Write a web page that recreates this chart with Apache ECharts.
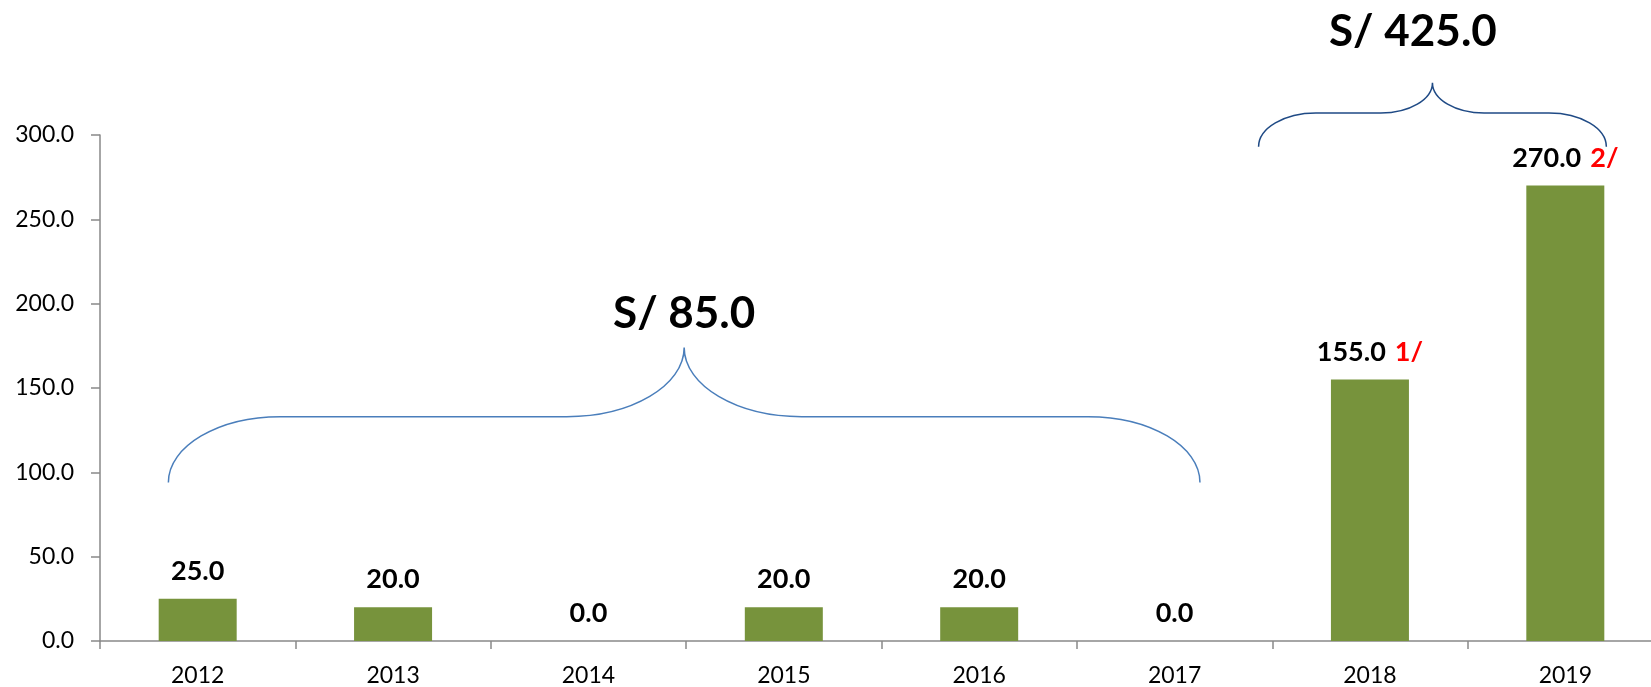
<!DOCTYPE html>
<html>
<head>
<meta charset="utf-8">
<script src="https://cdn.jsdelivr.net/npm/echarts@6/dist/echarts.min.js"></script>
<style>
  html, body { margin: 0; padding: 0; background: #fff; }
  #chart { width: 1651px; height: 687px; }
</style>
</head>
<body>
<div id="chart"></div>
<script>
// datos del grafico
const years = ['2012', '2013', '2014', '2015', '2016', '2017', '2018', '2019']
const amounts = [25, 20, 0, 20, 20, 0, 155, 270]
const notes = ['', '', '', '', '', '', '1/', '2/']
const yTicks = [0, 50, 100, 150, 200, 250, 300]

// llaves: [desde, hasta (en unidades de categoria), base, tramo, punta, etiqueta x, etiqueta y, texto]
const braceFrom = [0.35, 5.93]
const braceTo = [5.63, 7.71]
const braceBase = [94, 293]
const braceMid = [133, 313]
const braceTip = [174, 331]
const braceLabelX = [2.99, 6.72]
const braceLabelY = [194, 361]
const braceText = ['S/ 85.0', 'S/ 425.0']
const braceColor = ['#4a7ebb', '#1f4a85']

const FONT = 'Lato, "Open Sans", "Noto Sans", sans-serif'

const chart = echarts.init(document.getElementById('chart'))

const braceData = braceFrom.map((f, i) => [f, braceTo[i], braceBase[i], braceMid[i], braceTip[i], braceLabelX[i], braceLabelY[i], i])

function renderBrace(params, api) {
    const i = api.value(7)
    const pL = api.coord([api.value(0), api.value(2)])
    const pR = api.coord([api.value(1), api.value(2)])
    const yh = api.coord([api.value(0), api.value(3)])[1]
    const yt = api.coord([api.value(0), api.value(4)])[1]
    const yb = pL[1]
    const xm = (pL[0] + pR[0]) / 2
    const h1 = yb - yh
    const h2 = yh - yt
    const w1 = h1 * 1.7
    const w2 = h2 * 1.7
    const k = 0.552
    const x0 = pL[0]
    const x1 = pR[0]
    const d = [
        `M${x0},${yb}`,
        `C${x0},${yb - k * h1} ${x0 + w1 - k * w1},${yh} ${x0 + w1},${yh}`,
        `L${xm - w2},${yh}`,
        `C${xm - w2 + k * w2},${yh} ${xm},${yt + k * h2} ${xm},${yt}`,
        `C${xm},${yt + k * h2} ${xm + w2 - k * w2},${yh} ${xm + w2},${yh}`,
        `L${x1 - w1},${yh}`,
        `C${x1 - w1 + k * w1},${yh} ${x1},${yb - k * h1} ${x1},${yb}`
    ].join(' ')
    const lp = api.coord([api.value(5), api.value(6)])
    return {
        type: 'group',
        children: [
            {
                type: 'path',
                shape: { pathData: d },
                style: { fill: null, stroke: braceColor[i], lineWidth: 1.5 }
            },
            {
                type: 'text',
                x: lp[0],
                y: lp[1],
                style: {
                    text: braceText[i],
                    fill: '#000',
                    font: `bold 44px ${FONT}`,
                    align: 'center',
                    verticalAlign: 'middle'
                }
            }
        ]
    }
}

const option = {
    animation: false,
    backgroundColor: '#fff',
    grid: {
        left: 100,
        width: 1563,
        top: 135,
        bottom: 46,
        containLabel: false,
        outerBoundsMode: 'none'
    },
    xAxis: [
        {
            type: 'category',
            data: years,
            axisLine: { lineStyle: { color: '#898989', width: 1.5 } },
            axisTick: { show: true, length: 8, lineStyle: { color: '#898989', width: 1.5 } },
            axisLabel: {
                color: '#000',
                fontSize: 23,
                fontFamily: FONT,
                margin: 23
            }
        },
        {
            type: 'value',
            min: 0,
            max: 8,
            show: false
        }
    ],
    yAxis: {
        type: 'value',
        min: yTicks[0],
        max: yTicks[yTicks.length - 1],
        interval: 50,
        axisLine: { show: true, lineStyle: { color: '#898989', width: 1.5 } },
        axisTick: { show: true, length: 9, lineStyle: { color: '#898989', width: 1.5 } },
        splitLine: { show: false },
        axisLabel: {
            color: '#000',
            fontSize: 23,
            fontFamily: FONT,
            margin: 26,
            formatter: (v) => v.toFixed(1)
        }
    },
    series: [
        {
            type: 'bar',
            data: amounts,
            barWidth: 78,
            itemStyle: { color: '#77933C' },
            label: {
                show: true,
                position: 'top',
                distance: 14,
                formatter: (p) => {
                    const n = notes[p.dataIndex]
                    return n ? `{v|${p.value.toFixed(1)}}{n|${n}}` : `{v|${p.value.toFixed(1)}}`
                },
                rich: {
                    v: { color: '#000', fontSize: 27, fontWeight: 'bold', fontFamily: FONT },
                    n: { color: '#ff0000', fontSize: 27, fontWeight: 'bold', fontFamily: FONT, padding: [0, 0, 0, 9] }
                }
            }
        },
        {
            type: 'custom',
            xAxisIndex: 1,
            renderItem: renderBrace,
            data: braceData,
            silent: true,
            z: 5
        }
    ]
}

chart.setOption(option)
</script>
</body>
</html>
